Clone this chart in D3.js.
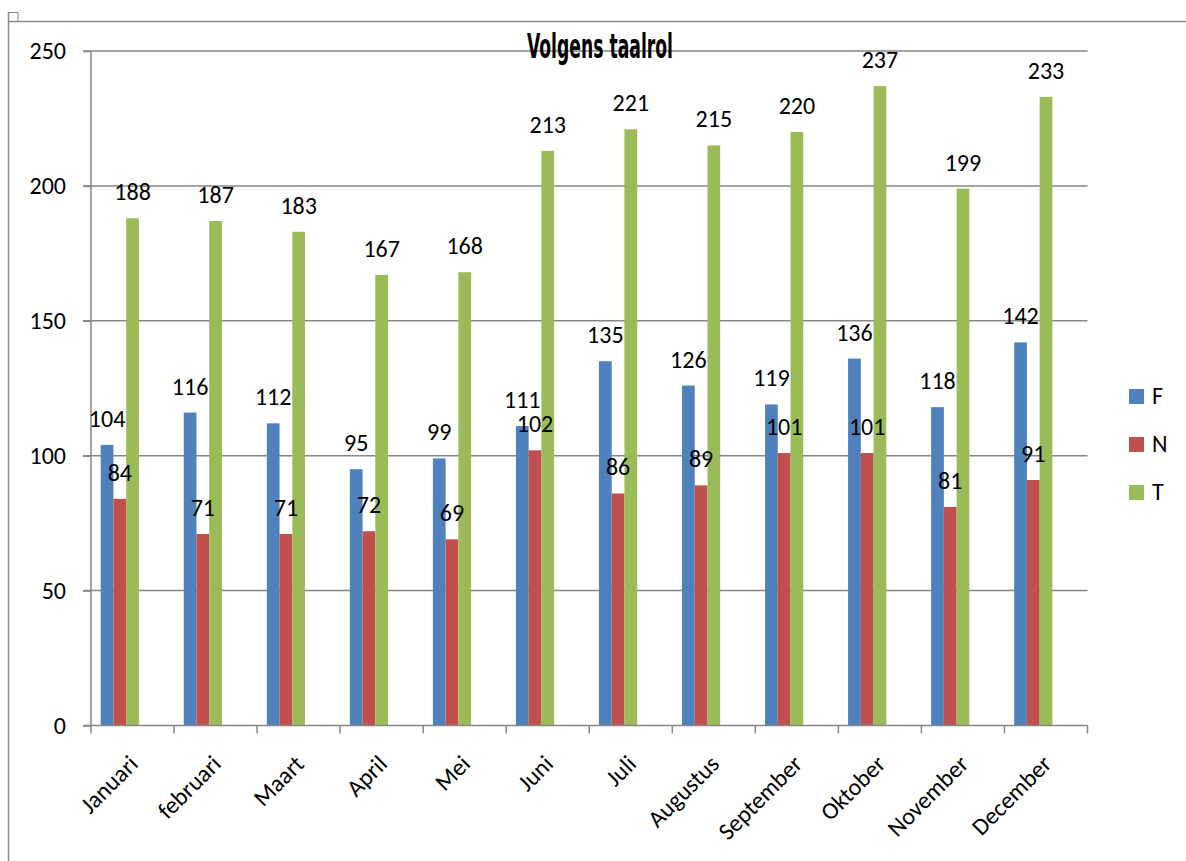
<!DOCTYPE html>
<html><head><meta charset="utf-8">
<script src="https://cdn.jsdelivr.net/npm/d3@7"></script>
<style>body{margin:0;background:#fff}svg{display:block}text{font-family:Carlito,'Liberation Sans',Arial,sans-serif;fill:#000}</style>
</head><body><svg id="c" width="1186" height="861"></svg>
<script>
const months = ["Januari","februari","Maart","April","Mei","Juni","Juli","Augustus","September","Oktober","November","December"];
const seriesNames = ["F","N","T"];
const valuesF = [104,116,112,95,99,111,135,126,119,136,118,142];
const valuesN = [84,71,71,72,69,102,86,89,101,101,81,91];
const valuesT = [188,187,183,167,168,213,221,215,220,237,199,233];
const yTicks = [0,50,100,150,200,250];
const colors = ["#4F81BD","#C0504D","#9BBB59"];
const title = "Volgens taalrol";

const svg = d3.select("#c");
const seriesVals = [valuesF, valuesN, valuesT];
const FS = 24;

// frame
svg.append("line").attr("x1",8.5).attr("x2",1186).attr("y1",21.5).attr("y2",21.5).attr("stroke","#8c8c8c").attr("stroke-width",1.5);
svg.append("line").attr("x1",8.5).attr("x2",8.5).attr("y1",12).attr("y2",861).attr("stroke","#8c8c8c").attr("stroke-width",1.5);
svg.append("rect").attr("x",8.5).attr("y",12.5).attr("width",9.5).attr("height",9).attr("fill","none").attr("stroke","#8c8c8c").attr("stroke-width",1);

const x0 = d3.scaleBand().domain(months).range([91,1087.5]).paddingInner(0).paddingOuter(0);
const bw = x0.bandwidth();
const x1 = d3.scaleBand().domain(seriesNames).range([bw*0.117, bw*0.117 + bw*0.46]);
const y = d3.scaleLinear().domain([0,250]).range([725.5,51]);

// gridlines
svg.append("g").selectAll("line").data(yTicks.filter(d=>d>0)).join("line")
  .attr("x1",83).attr("x2",1087.5).attr("y1",d=>y(d)).attr("y2",d=>y(d))
  .attr("stroke","#868686").attr("stroke-width",1.5);

// y axis
const ya = svg.append("g").attr("transform","translate(91,0)")
  .call(d3.axisLeft(y).tickValues(yTicks).tickSize(8).tickPadding(17).tickFormat(d3.format("d")));
ya.select(".domain").attr("stroke","#868686").attr("stroke-width",1.5).attr("d","M0,51V725.5");
ya.selectAll(".tick line").attr("stroke","#868686").attr("stroke-width",1.5);
ya.selectAll(".tick text").attr("font-size",FS).attr("font-family","Carlito,'Liberation Sans',Arial,sans-serif").attr("fill","#000");

// bars
const groups = svg.append("g").selectAll("g").data(months).join("g")
  .attr("transform",d=>`translate(${x0(d)},0)`);
seriesNames.forEach((s,si)=>{
  groups.append("rect")
    .attr("x",x1(s)).attr("width",x1.bandwidth())
    .attr("y",(d,i)=>y(seriesVals[si][i]))
    .attr("height",(d,i)=>y(0)-y(seriesVals[si][i]))
    .attr("fill",colors[si]);
});

// x axis
const xa = svg.append("g").attr("transform","translate(0,725.5)");
xa.append("line").attr("x1",83).attr("x2",1087.5).attr("stroke","#868686").attr("stroke-width",1.5);
const tickPos = months.map(m=>x0(m)).concat([x0.range()[1]]);
xa.selectAll("line.t").data(tickPos).join("line").attr("class","t")
  .attr("x1",d=>d).attr("x2",d=>d).attr("y1",0).attr("y2",8).attr("stroke","#868686").attr("stroke-width",1.5);
xa.selectAll("text").data(months).join("text")
  .attr("transform",d=>`translate(${x0(d)+bw/2+1},${34}) rotate(-45)`)
  .attr("text-anchor","end").attr("dy","0.35em").attr("font-size",FS).text(d=>d);

// data labels
seriesNames.forEach((s,si)=>{
  svg.append("g").selectAll("text").data(months).join("text")
    .attr("x",(d)=>x0(d)+x1(s)+x1.bandwidth()/2)
    .attr("y",(d,i)=>y(seriesVals[si][i])-18)
    .attr("text-anchor","middle").attr("font-size",FS)
    .text((d,i)=>seriesVals[si][i]);
});

// title
svg.append("text").attr("x",600).attr("y",58).attr("text-anchor","middle")
  .attr("font-size",34).attr("font-weight","bold")
  .style("font-family","'Liberation Sans Narrow','DejaVu Sans Condensed','Liberation Sans',sans-serif")
  .attr("textLength",146).attr("lengthAdjust","spacingAndGlyphs").text(title);

// legend
const lg = svg.append("g").selectAll("g").data(seriesNames).join("g")
  .attr("transform",(d,i)=>`translate(1129,${389+i*48})`);
lg.append("rect").attr("width",15).attr("height",15).attr("fill",(d,i)=>colors[i]);
lg.append("text").attr("x",23).attr("y",15).attr("font-size",FS).text(d=>d);
</script></body></html>
